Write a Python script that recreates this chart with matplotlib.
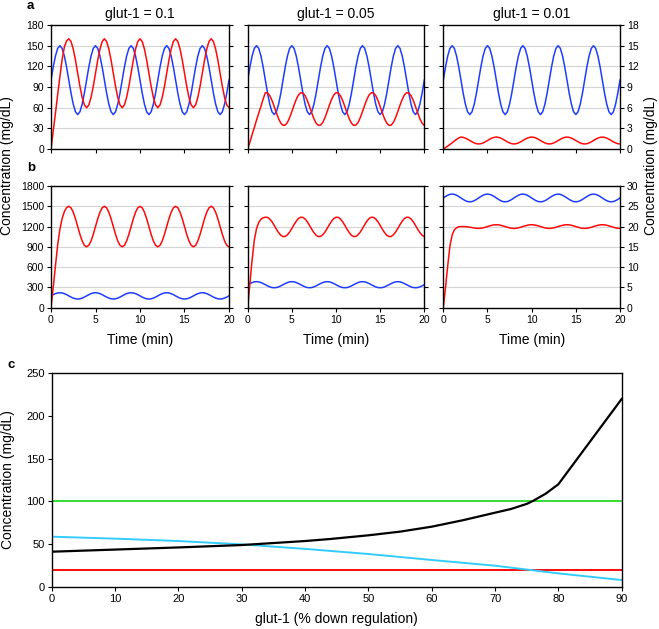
import numpy as np
import matplotlib
matplotlib.use("Agg")
import matplotlib.pyplot as plt

plt.rcParams['font.family'] = ['Liberation Sans', 'DejaVu Sans']

# time grid (min), 0.25 min steps
time = np.linspace(0, 20, 81)

# ---- row a (glut-1 = 0.1, 0.05, 0.01) ----
blue_a1 = [100, 119, 135, 146, 150, 146, 135, 119, 100, 81, 65, 54, 50, 54, 65, 81,
           100, 119, 135, 146, 150, 146, 135, 119, 100, 81, 65, 54, 50, 54, 65, 81,
           100, 119, 135, 146, 150, 146, 135, 119, 100, 81, 65, 54, 50, 54, 65, 81,
           100, 119, 135, 146, 150, 146, 135, 119, 100, 81, 65, 54, 50, 54, 65, 81,
           100, 119, 135, 146, 150, 146, 135, 119, 100, 81, 65, 54, 50, 54, 65, 81,
           100]
red_a1 = [0, 26, 52, 79, 105, 130, 148, 157,
          160, 156, 145, 129, 110, 91, 75, 64, 60, 64, 75, 91, 110, 129, 145, 156,
          160, 156, 145, 129, 110, 91, 75, 64, 60, 64, 75, 91, 110, 129, 145, 156,
          160, 156, 145, 129, 110, 91, 75, 64, 60, 64, 75, 91, 110, 129, 145, 156,
          160, 156, 145, 129, 110, 91, 75, 64, 60, 64, 75, 91, 110, 129, 145, 156,
          160, 156, 145, 129, 110, 91, 75, 64, 60]
blue_a2 = [100, 119, 135, 146, 150, 146, 135, 119, 100, 81, 65, 54, 50, 54, 65, 81,
           100, 119, 135, 146, 150, 146, 135, 119, 100, 81, 65, 54, 50, 54, 65, 81,
           100, 119, 135, 146, 150, 146, 135, 119, 100, 81, 65, 54, 50, 54, 65, 81,
           100, 119, 135, 146, 150, 146, 135, 119, 100, 81, 65, 54, 50, 54, 65, 81,
           100, 119, 135, 146, 150, 146, 135, 119, 100, 81, 65, 54, 50, 54, 65, 81,
           100]
red_a2 = [0, 10, 21, 31, 42, 52, 62, 72.5,
          81.7, 81.3, 77.4, 70.5, 61.7, 52.4, 43.9, 37.5, 34.3, 34.7, 38.6, 45.5, 54.3, 63.6, 72.1, 78.5,
          81.7, 81.3, 77.4, 70.5, 61.7, 52.4, 43.9, 37.5, 34.3, 34.7, 38.6, 45.5, 54.3, 63.6, 72.1, 78.5,
          81.7, 81.3, 77.4, 70.5, 61.7, 52.4, 43.9, 37.5, 34.3, 34.7, 38.6, 45.5, 54.3, 63.6, 72.1, 78.5,
          81.7, 81.3, 77.4, 70.5, 61.7, 52.4, 43.9, 37.5, 34.3, 34.7, 38.6, 45.5, 54.3, 63.6, 72.1, 78.5,
          81.7, 81.3, 77.4, 70.5, 61.7, 52.4, 43.9, 37.5, 34.3]
blue_a3 = [10, 11.9, 13.5, 14.6, 15, 14.6, 13.5, 11.9, 10, 8.1, 6.5, 5.4, 5, 5.4, 6.5, 8.1,
           10, 11.9, 13.5, 14.6, 15, 14.6, 13.5, 11.9, 10, 8.1, 6.5, 5.4, 5, 5.4, 6.5, 8.1,
           10, 11.9, 13.5, 14.6, 15, 14.6, 13.5, 11.9, 10, 8.1, 6.5, 5.4, 5, 5.4, 6.5, 8.1,
           10, 11.9, 13.5, 14.6, 15, 14.6, 13.5, 11.9, 10, 8.1, 6.5, 5.4, 5, 5.4, 6.5, 8.1,
           10, 11.9, 13.5, 14.6, 15, 14.6, 13.5, 11.9, 10, 8.1, 6.5, 5.4, 5, 5.4, 6.5, 8.1,
           10]
red_a3 = [0, 0.2, 0.42, 0.65, 0.9, 1.15, 1.4, 1.6,
          1.73, 1.69, 1.58, 1.42, 1.23, 1.04, 0.88, 0.77, 0.73, 0.77, 0.88, 1.04, 1.23, 1.42, 1.58, 1.69,
          1.73, 1.69, 1.58, 1.42, 1.23, 1.04, 0.88, 0.77, 0.73, 0.77, 0.88, 1.04, 1.23, 1.42, 1.58, 1.69,
          1.73, 1.69, 1.58, 1.42, 1.23, 1.04, 0.88, 0.77, 0.73, 0.77, 0.88, 1.04, 1.23, 1.42, 1.58, 1.69,
          1.73, 1.69, 1.58, 1.42, 1.23, 1.04, 0.88, 0.77, 0.73, 0.77, 0.88, 1.04, 1.23, 1.42, 1.58, 1.69,
          1.73, 1.69, 1.58, 1.42, 1.23, 1.04, 0.88, 0.77, 0.73]

# ---- row b ----
blue_b1 = [175, 193, 208, 218, 222, 218, 208, 193, 175, 157, 142, 132, 128, 132, 142, 157,
           175, 193, 208, 218, 222, 218, 208, 193, 175, 157, 142, 132, 128, 132, 142, 157,
           175, 193, 208, 218, 222, 218, 208, 193, 175, 157, 142, 132, 128, 132, 142, 157,
           175, 193, 208, 218, 222, 218, 208, 193, 175, 157, 142, 132, 128, 132, 142, 157,
           175, 193, 208, 218, 222, 218, 208, 193, 175, 157, 142, 132, 128, 132, 142, 157,
           175]
red_b1 = [0, 300, 620, 930, 1160, 1320, 1420, 1480,
          1500, 1477, 1412, 1315, 1200, 1085, 988, 923, 900, 923, 988, 1085, 1200, 1315, 1412, 1477,
          1500, 1477, 1412, 1315, 1200, 1085, 988, 923, 900, 923, 988, 1085, 1200, 1315, 1412, 1477,
          1500, 1477, 1412, 1315, 1200, 1085, 988, 923, 900, 923, 988, 1085, 1200, 1315, 1412, 1477,
          1500, 1477, 1412, 1315, 1200, 1085, 988, 923, 900, 923, 988, 1085, 1200, 1315, 1412, 1477,
          1500, 1477, 1412, 1315, 1200, 1085, 988, 923, 900]
blue_b2 = [340, 357, 372, 382, 385, 382, 372, 357, 340, 323, 308, 298, 295, 298, 308, 323,
           340, 357, 372, 382, 385, 382, 372, 357, 340, 323, 308, 298, 295, 298, 308, 323,
           340, 357, 372, 382, 385, 382, 372, 357, 340, 323, 308, 298, 295, 298, 308, 323,
           340, 357, 372, 382, 385, 382, 372, 357, 340, 323, 308, 298, 295, 298, 308, 323,
           340, 357, 372, 382, 385, 382, 372, 357, 340, 323, 308, 298, 295, 298, 308, 323,
           340]
red_b2 = [0, 360, 710, 1000, 1170, 1260, 1310, 1330,
          1338, 1336, 1312, 1271, 1218, 1161, 1110, 1071, 1052, 1054, 1078, 1119, 1172, 1229, 1280, 1319,
          1338, 1336, 1312, 1271, 1218, 1161, 1110, 1071, 1052, 1054, 1078, 1119, 1172, 1229, 1280, 1319,
          1338, 1336, 1312, 1271, 1218, 1161, 1110, 1071, 1052, 1054, 1078, 1119, 1172, 1229, 1280, 1319,
          1338, 1336, 1312, 1271, 1218, 1161, 1110, 1071, 1052, 1054, 1078, 1119, 1172, 1229, 1280, 1319,
          1338, 1336, 1312, 1271, 1218, 1161, 1110, 1071, 1052]
blue_b3 = [27.05, 27.41, 27.72, 27.93, 28.0, 27.93, 27.72, 27.41, 27.05, 26.69, 26.38, 26.17, 26.1, 26.17, 26.38, 26.69,
           27.05, 27.41, 27.72, 27.93, 28.0, 27.93, 27.72, 27.41, 27.05, 26.69, 26.38, 26.17, 26.1, 26.17, 26.38, 26.69,
           27.05, 27.41, 27.72, 27.93, 28.0, 27.93, 27.72, 27.41, 27.05, 26.69, 26.38, 26.17, 26.1, 26.17, 26.38, 26.69,
           27.05, 27.41, 27.72, 27.93, 28.0, 27.93, 27.72, 27.41, 27.05, 26.69, 26.38, 26.17, 26.1, 26.17, 26.38, 26.69,
           27.05, 27.41, 27.72, 27.93, 28.0, 27.93, 27.72, 27.41, 27.05, 26.69, 26.38, 26.17, 26.1, 26.17, 26.38, 26.69,
           27.05]
red_b3 = [0, 5, 10.3, 15.2, 17.9, 19.2, 19.7, 19.95,
          20.0, 20.0, 19.98, 19.93, 19.85, 19.75, 19.65, 19.58,
          19.55, 19.58, 19.68, 19.83, 20.0, 20.17, 20.32, 20.42, 20.45, 20.42, 20.32, 20.17, 20.0, 19.83, 19.68, 19.58,
          19.55, 19.58, 19.68, 19.83, 20.0, 20.17, 20.32, 20.42, 20.45, 20.42, 20.32, 20.17, 20.0, 19.83, 19.68, 19.58,
          19.55, 19.58, 19.68, 19.83, 20.0, 20.17, 20.32, 20.42, 20.45, 20.42, 20.32, 20.17, 20.0, 19.83, 19.68, 19.58,
          19.55, 19.58, 19.68, 19.83, 20.0, 20.17, 20.32, 20.42, 20.45, 20.42, 20.32, 20.17, 20.0, 19.83, 19.68, 19.58,
          19.55]

# ---- panel c ----
glut_black = [0, 10, 20, 30, 40, 44, 50, 55, 60, 65, 70, 72.5, 75, 76, 78, 80, 82.5, 85, 87.5, 90]
conc_black = [41, 43.5, 46, 48.8, 53.5, 55.9, 60.2, 64.5, 70.3, 78, 86.7, 91, 97, 100.5, 109, 120, 145, 170, 195, 220]
glut_cyan = [0, 10, 20, 30, 40, 50, 60, 70, 80, 90]
conc_cyan = [58.6, 56.3, 53.5, 49.6, 44.3, 38.3, 31.3, 24.6, 15.6, 7.8]
glut_flat = [0, 90]
conc_green = [100, 100]
conc_red = [20, 20]

titles = ["glut-1 = 0.1", "glut-1 = 0.05", "glut-1 = 0.01"]

BLUE = "#1f3dff"
RED = "#ff0a0a"
GRID = "#d4d4d4"

W, H = 659, 629
fig = plt.figure(figsize=(W / 100, H / 100), dpi=100)


def box(l, t, r, b):
    return [l / W, 1 - b / H, (r - l) / W, (b - t) / H]


cols = [(51, 229), (247.7, 424.3), (443.3, 620)]


def style_small(ax, ymax, ystep, col, xlabels):
    ax.set_xlim(0, 20)
    ax.set_ylim(0, ymax)
    ax.set_xticks([0, 5, 10, 15, 20])
    ax.set_yticks(np.arange(0, ymax + 0.01, ystep))
    ax.yaxis.grid(True, color=GRID, lw=0.8)
    ax.set_axisbelow(True)
    ax.tick_params(direction="out", length=3, width=0.8, labelsize=7.5, pad=2,
                   left=True, right=True,
                   labelleft=(col == 0), labelright=(col == 2),
                   labelbottom=xlabels)
    for s in ax.spines.values():
        s.set_linewidth(1.0)
    if xlabels:
        ax.set_xlabel("Time (min)", fontsize=10, labelpad=6)


row_a = [(blue_a1, red_a1, 180, 30), (blue_a2, red_a2, 180, 30), (blue_a3, red_a3, 18, 3)]
row_b = [(blue_b1, red_b1, 1800, 300), (blue_b2, red_b2, 1800, 300), (blue_b3, red_b3, 30, 5)]

for i, (l, r) in enumerate(cols):
    ax = fig.add_axes(box(l, 25, r, 149))
    bl, rd, ymax, ystep = row_a[i]
    ax.plot(time, bl, color=BLUE, lw=1.1)
    ax.plot(time, rd, color=RED, lw=1.1)
    style_small(ax, ymax, ystep, i, False)
    ax.set_title(titles[i], fontsize=10, pad=5)

    ax = fig.add_axes(box(l, 186, r, 307.7))
    bl, rd, ymax, ystep = row_b[i]
    ax.plot(time, bl, color=BLUE, lw=1.1)
    ax.plot(time, rd, color=RED, lw=1.1)
    style_small(ax, ymax, ystep, i, True)

fig.text(7 / W, 1 - 166 / H, "Concentration (mg/dL)", rotation=90,
         ha="center", va="center", fontsize=10)
fig.text(651 / W, 1 - 166 / H, "Concentration (mg/dL)", rotation=90,
         ha="center", va="center", fontsize=10)
fig.text(27 / W, 1 - 6 / H, "a", fontsize=9.5, fontweight="bold", ha="left", va="center")
fig.text(27 / W, 1 - 168 / H, "b", fontsize=9.5, fontweight="bold", ha="left", va="center")
fig.text(8 / W, 1 - 365 / H, "c", fontsize=9.5, fontweight="bold", ha="left", va="center")

# panel c
axc = fig.add_axes(box(51.7, 373.3, 621.7, 586.7))
axc.plot(glut_flat, conc_green, color="#33dd33", lw=1.4)
axc.plot(glut_flat, conc_red, color=RED, lw=1.4)
axc.plot(glut_cyan, conc_cyan, color="#33ccff", lw=1.4)
axc.plot(glut_black, conc_black, color="black", lw=1.6)
axc.set_xlim(0, 90)
axc.set_ylim(0, 250)
axc.set_xticks(np.arange(0, 91, 10))
axc.set_yticks(np.arange(0, 251, 50))
axc.tick_params(direction="out", length=3, width=0.8, labelsize=8, pad=2)
for s in axc.spines.values():
    s.set_linewidth(1.0)
axc.set_xlabel("glut-1 (% down regulation)", fontsize=10, labelpad=6)
fig.text(8 / W, 1 - 480 / H, "Concentration (mg/dL)", rotation=90,
         ha="center", va="center", fontsize=10)

fig.savefig("out.png", dpi=100)
